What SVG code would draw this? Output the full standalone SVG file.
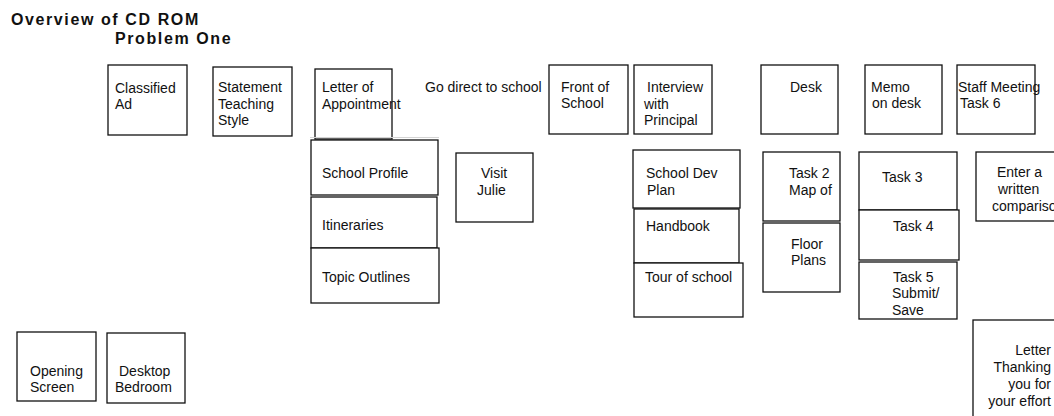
<svg xmlns="http://www.w3.org/2000/svg" width="1054" height="416" viewBox="0 0 1054 416">
<style>
  .box { fill: #fff; stroke: #111; stroke-width: 1.3; }
  text { font-family: "Liberation Sans", Arial, sans-serif; font-size: 14px; fill: #111; }
  .title { font-weight: bold; font-size: 16px; letter-spacing: 1.6px; }
  .end { text-anchor: end; }
</style>
<rect width="1054" height="416" fill="#fff"/>
<g id="title">
  <text class="title" x="11" y="25">Overview of CD ROM</text>
  <text class="title" x="115" y="44">Problem One</text>
</g>
<g id="connectors"></g>
<g id="classified-ad">
  <rect class="box" x="108" y="65" width="79" height="70"/>
  <text x="115" y="93">Classified</text>
  <text x="115" y="109">Ad</text>
</g>
<g id="statement">
  <rect class="box" x="213" y="67" width="79" height="69"/>
  <text x="218" y="92">Statement</text>
  <text x="218" y="108.5">Teaching</text>
  <text x="218" y="125">Style</text>
</g>
<g id="letter-of-appointment">
  <rect class="box" x="315" y="69" width="77" height="70"/>
  <text x="322" y="92">Letter of</text>
  <text x="322" y="108.5">Appointment</text>
</g>
<g id="go-direct">
  <text x="425" y="92">Go direct to school</text>
</g>
<g id="front-of-school">
  <rect class="box" x="549" y="65" width="79" height="69"/>
  <text x="561" y="92">Front of</text>
  <text x="561" y="108">School</text>
</g>
<g id="interview">
  <rect class="box" x="634" y="65" width="78" height="69"/>
  <text x="647" y="92">Interview</text>
  <text x="644" y="108.5">with</text>
  <text x="644" y="125">Principal</text>
</g>
<g id="desk">
  <rect class="box" x="761" y="65" width="77" height="69"/>
  <text x="790" y="92">Desk</text>
</g>
<g id="memo">
  <rect class="box" x="865" y="65" width="77" height="69"/>
  <text x="871" y="92">Memo</text>
  <text x="872" y="108">on desk</text>
</g>
<g id="staff-meeting">
  <rect class="box" x="957" y="65" width="78" height="69"/>
  <text x="958" y="92">Staff Meeting</text>
  <text x="960" y="108">Task 6</text>
</g>
<line x1="310" y1="137.5" x2="439" y2="137.5" stroke="#d4d4d4" stroke-width="1"/>
<g id="school-profile">
  <rect class="box" x="311" y="140" width="127" height="55"/>
  <text x="322" y="178">School Profile</text>
</g>
<g id="itineraries">
  <rect class="box" x="311" y="197" width="126" height="51"/>
  <text x="322" y="230">Itineraries</text>
</g>
<g id="topic-outlines">
  <rect class="box" x="311" y="248" width="128" height="55"/>
  <text x="322" y="282">Topic Outlines</text>
</g>
<g id="visit-julie">
  <rect class="box" x="456" y="153" width="77" height="69"/>
  <text x="481" y="178">Visit</text>
  <text x="477" y="195">Julie</text>
</g>
<g id="school-dev-plan">
  <rect class="box" x="633" y="150" width="107" height="58"/>
  <text x="646" y="178">School Dev</text>
  <text x="647" y="195">Plan</text>
</g>
<g id="handbook">
  <rect class="box" x="634" y="209" width="105" height="54"/>
  <text x="646" y="231">Handbook</text>
</g>
<g id="tour-of-school">
  <rect class="box" x="634" y="263" width="109" height="54"/>
  <text x="645" y="282">Tour of school</text>
</g>
<g id="task-2">
  <rect class="box" x="763" y="152" width="77" height="69"/>
  <text x="789" y="178">Task 2</text>
  <text x="789" y="195">Map of</text>
</g>
<g id="floor-plans">
  <rect class="box" x="763" y="223" width="77" height="69"/>
  <text x="791" y="249">Floor</text>
  <text x="791" y="265">Plans</text>
</g>
<g id="task-3">
  <rect class="box" x="859" y="152" width="98" height="58"/>
  <text x="882" y="182">Task 3</text>
</g>
<g id="task-4">
  <rect class="box" x="859" y="210" width="100" height="50"/>
  <text x="893" y="231">Task 4</text>
</g>
<g id="task-5">
  <rect class="box" x="859" y="262" width="98" height="57"/>
  <text x="893" y="282">Task 5</text>
  <text x="892" y="298">Submit/</text>
  <text x="892" y="315">Save</text>
</g>
<g id="enter-comparison">
  <rect class="box" x="976" y="152" width="90" height="69"/>
  <text x="997" y="177">Enter a</text>
  <text x="998" y="194">written</text>
  <text x="992" y="211">comparison</text>
</g>
<g id="letter-thanking">
  <rect class="box" x="973" y="320" width="95" height="110"/>
  <text class="end" x="1051" y="355">Letter</text>
  <text class="end" x="1051" y="372">Thanking</text>
  <text class="end" x="1051" y="389">you for</text>
  <text class="end" x="1051" y="406">your effort</text>
</g>
<g id="opening-screen">
  <rect class="box" x="17" y="332" width="79" height="69"/>
  <text x="30" y="376">Opening</text>
  <text x="30" y="392">Screen</text>
</g>
<g id="desktop-bedroom">
  <rect class="box" x="107" y="333" width="78" height="70"/>
  <text x="119" y="376">Desktop</text>
  <text x="115" y="392">Bedroom</text>
</g>
</svg>
